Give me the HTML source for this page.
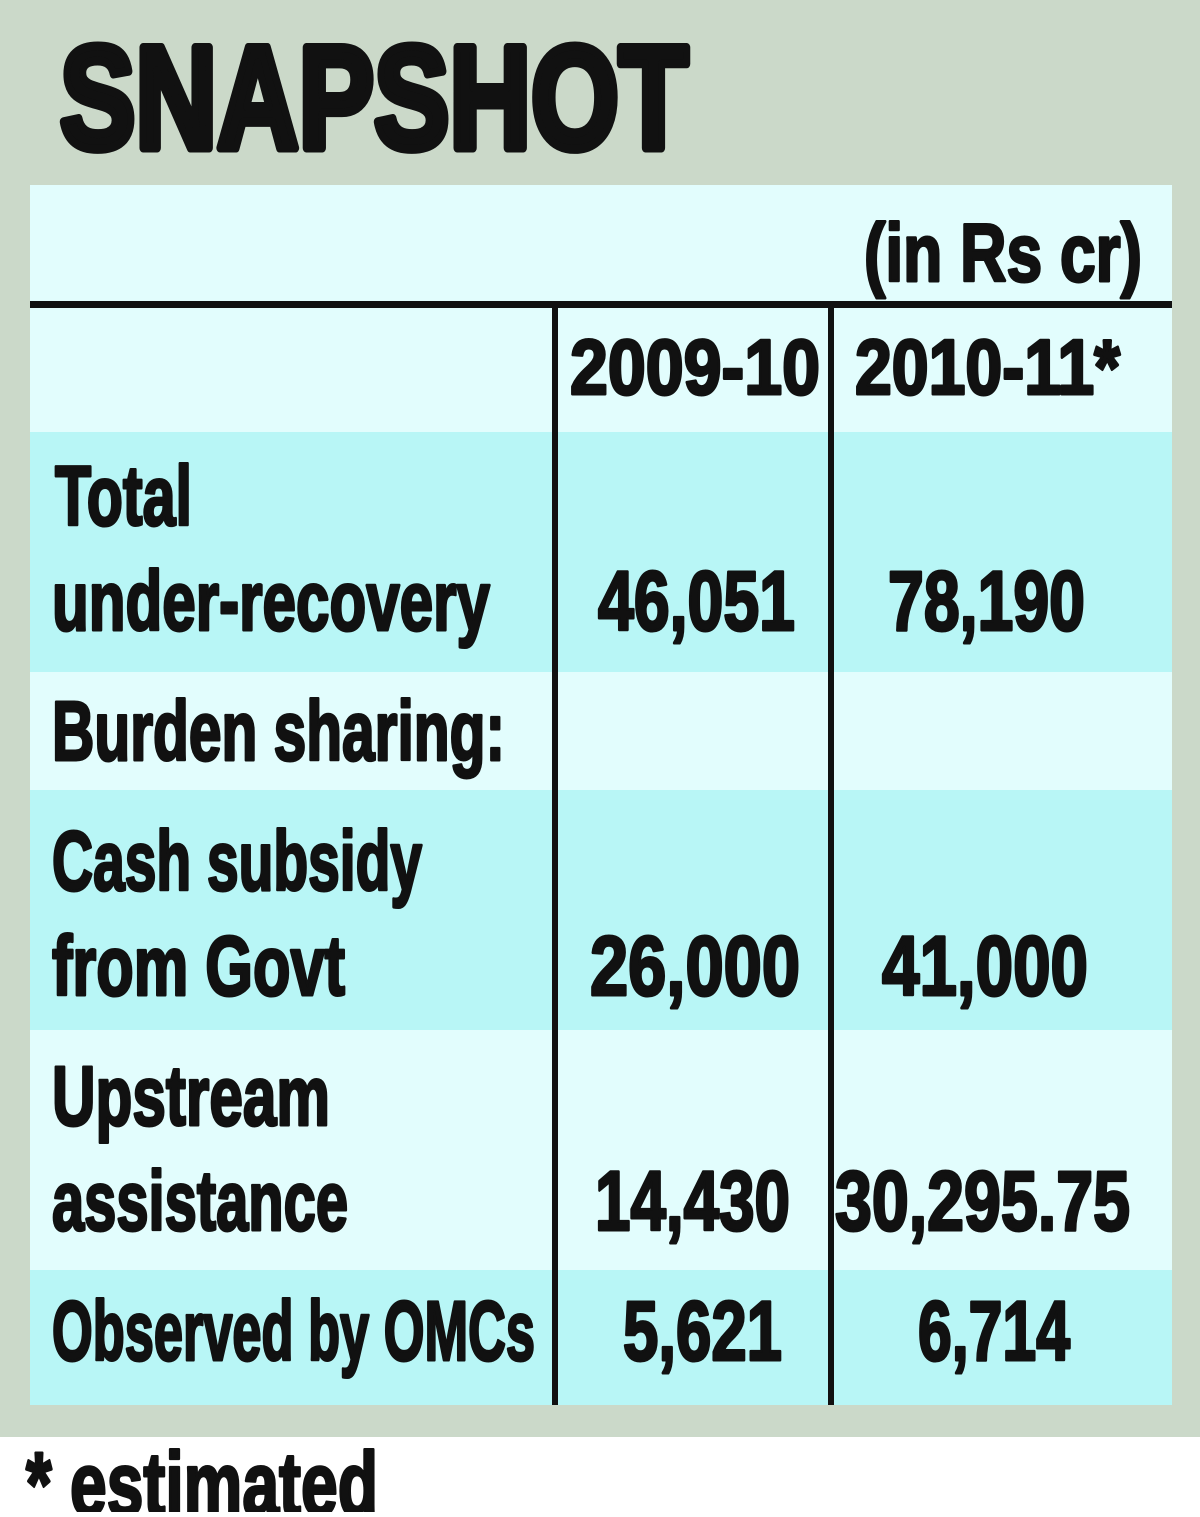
<!DOCTYPE html>
<html><head><meta charset="utf-8"><style>
html,body{margin:0;padding:0;background:#fff;}
svg text{font-family:"Liberation Sans",sans-serif;font-weight:bold;fill:#111;stroke:#111;stroke-width:3;stroke-linejoin:round;}
</style></head><body>
<svg width="1200" height="1512" viewBox="0 0 1200 1512">
<rect x="0" y="0" width="1200" height="1437" fill="#cbd9c9"/>
<rect x="0" y="1437" width="1200" height="75" fill="#ffffff"/>
<text x="60" y="148" font-size="146" textLength="628" lengthAdjust="spacingAndGlyphs" style="stroke-width:9">SNAPSHOT</text>
<rect x="30" y="185" width="1142" height="120" fill="#e2fdfd"/>
<text x="864" y="281" font-size="82" textLength="278" lengthAdjust="spacingAndGlyphs">(in Rs cr)</text>
<rect x="30" y="305" width="1142" height="127" fill="#e2fdfd"/>
<rect x="30" y="432" width="1142" height="240" fill="#b8f6f6"/>
<rect x="30" y="672" width="1142" height="118" fill="#e2fdfd"/>
<rect x="30" y="790" width="1142" height="240" fill="#b8f6f6"/>
<rect x="30" y="1030" width="1142" height="240" fill="#e2fdfd"/>
<rect x="30" y="1270" width="1142" height="135" fill="#b8f6f6"/>
<rect x="30" y="301" width="1142" height="7" fill="#111"/>
<rect x="552" y="305" width="6" height="1100" fill="#111"/>
<rect x="828" y="305" width="6" height="1100" fill="#111"/>
<text x="570" y="394" font-size="78" textLength="250" lengthAdjust="spacingAndGlyphs">2009-10</text>
<text x="855" y="394" font-size="78" textLength="265" lengthAdjust="spacingAndGlyphs">2010-11*</text>
<g>
<text x="55" y="525" font-size="84" textLength="137" lengthAdjust="spacingAndGlyphs">Total</text>
<text x="52" y="630" font-size="84" textLength="438" lengthAdjust="spacingAndGlyphs">under-recovery</text>
<text x="52" y="760" font-size="84" textLength="453" lengthAdjust="spacingAndGlyphs">Burden sharing:</text>
<text x="52" y="890" font-size="84" textLength="370" lengthAdjust="spacingAndGlyphs">Cash subsidy</text>
<text x="52" y="995" font-size="84" textLength="293" lengthAdjust="spacingAndGlyphs">from Govt</text>
<text x="52" y="1125" font-size="84" textLength="278" lengthAdjust="spacingAndGlyphs">Upstream</text>
<text x="52" y="1230" font-size="84" textLength="296" lengthAdjust="spacingAndGlyphs">assistance</text>
<text x="52" y="1360" font-size="84" textLength="483" lengthAdjust="spacingAndGlyphs">Observed by OMCs</text>
</g>
<g>
<text x="598" y="630" font-size="84" textLength="197" lengthAdjust="spacingAndGlyphs">46,051</text>
<text x="888" y="630" font-size="84" textLength="197" lengthAdjust="spacingAndGlyphs">78,190</text>
<text x="590" y="995" font-size="84" textLength="210" lengthAdjust="spacingAndGlyphs">26,000</text>
<text x="882" y="995" font-size="84" textLength="206" lengthAdjust="spacingAndGlyphs">41,000</text>
<text x="595" y="1230" font-size="84" textLength="195" lengthAdjust="spacingAndGlyphs">14,430</text>
<text x="835" y="1230" font-size="84" textLength="295" lengthAdjust="spacingAndGlyphs">30,295.75</text>
<text x="623" y="1360" font-size="84" textLength="159" lengthAdjust="spacingAndGlyphs">5,621</text>
<text x="918" y="1360" font-size="84" textLength="152" lengthAdjust="spacingAndGlyphs">6,714</text>
</g>
<text x="26" y="1515" font-size="90" textLength="352" lengthAdjust="spacingAndGlyphs">* estimated</text>
</svg>
</body></html>
